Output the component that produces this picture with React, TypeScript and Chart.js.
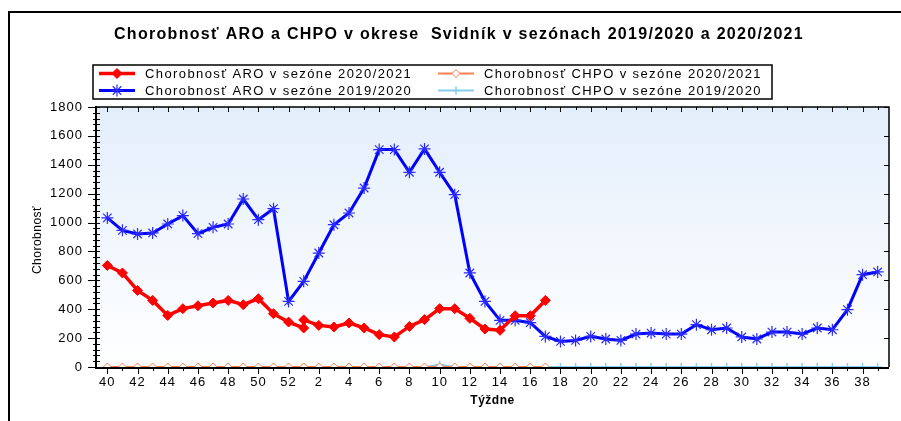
import React, { useEffect, useRef } from "react";
import { Chart, registerables } from "chart.js";
import { drawPoint } from "chart.js/helpers";

Chart.register(...registerables);

// ---- data ----
const weekLabels = [
  "40", "41", "42", "43", "44", "45", "46", "47", "48", "49", "50", "51", "52",
  "1", "2", "3", "4", "5", "6", "7", "8", "9", "10", "11", "12", "13", "14", "15", "16", "17",
  "18", "19", "20", "21", "22", "23", "24", "25", "26", "27", "28", "29", "30", "31", "32", "33",
  "34", "35", "36", "37", "38", "39",
];

const weeks2021 = [
  "40", "41", "42", "43", "44", "45", "46", "47", "48", "49", "50", "51", "52", "53",
  "1", "2", "3", "4", "5", "6", "7", "8", "9", "10", "11", "12", "13", "14", "15", "16", "17",
];

const aro2021 = [
  703, 651, 530, 461, 357, 404, 424, 443, 461, 431, 473, 369, 311, 270,
  326, 288, 277, 305, 270, 224, 208, 281, 328, 404, 404, 337, 263, 254, 355, 355, 461,
];

const chpo2021 = [
  0, 0, 0, 0, 0, 0, 0, 0, 0, 0, 0, 0, 0, 0,
  0, 0, 0, 0, 0, 0, 0, 0, 0, 0, 0, 0, 0, 0, 0, 0, 0,
];

const aro1920 = [
  1032, 946, 921, 928, 990, 1048, 923, 967, 990, 1163, 1020, 1096, 454,
  593, 789, 985, 1066, 1239, 1505, 1505, 1348, 1510, 1348, 1193, 651, 454, 323, 323, 307, 212,
  177, 184, 212, 194, 184, 228, 235, 228, 228, 293, 258, 270, 208, 194, 242, 242, 228, 270, 258,
  397, 639, 658,
];

const chpo1920 = [
  0, 0, 0, 0, 0, 0, 0, 0, 0, 0, 0, 0, 0,
  0, 0, 0, 0, 0, 0, 0, 0, 0, 15, 0, 0, 0, 0, 0, 0, 0,
  0, 0, 0, 0, 0, 0, 0, 0, 0, 0, 0, 0, 0, 0, 0, 0, 0, 0, 0, 0, 0, 0,
];

const yTicks = [0, 200, 400, 600, 800, 1000, 1200, 1400, 1600, 1800];

const titleText = "Chorobnosť ARO a CHPO v okrese  Svidník v sezónach 2019/2020 a 2020/2021";
const yTitle = "Chorobnosť";
const xTitle = "Týždne";
const seriesNames = [
  "Chorobnosť ARO v sezóne 2020/2021",
  "Chorobnosť CHPO v sezóne 2020/2021",
  "Chorobnosť ARO v sezóne 2019/2020",
  "Chorobnosť CHPO v sezóne 2019/2020",
];

// week label -> position on the shared week axis (week 53 shares slot with week 1)
const xOf = (w: string) => {
  const n = Number(w);
  if (n >= 40) return Math.min(n - 40, 13);
  return weekLabels.indexOf(w);
};

const FONT = "'Liberation Sans', Arial, sans-serif";

const decorPlugin = {
  id: "decor",
  beforeDraw(chart: any) {
    const { ctx, chartArea: a } = chart;
    ctx.save();
    ctx.fillStyle = "#ffffff";
    ctx.fillRect(0, 0, chart.width, chart.height);
    // outer frame
    ctx.strokeStyle = "#000";
    ctx.lineWidth = 2;
    ctx.beginPath();
    ctx.moveTo(9, chart.height + 2);
    ctx.lineTo(9, 12);
    ctx.lineTo(chart.width + 2, 12);
    ctx.stroke();
    // plot background gradient
    const g = ctx.createLinearGradient(0, a.top, 0, a.bottom);
    g.addColorStop(0, "#e3eefb");
    g.addColorStop(1, "#ffffff");
    ctx.fillStyle = g;
    ctx.fillRect(a.left, a.top, a.right - a.left, a.bottom - a.top);
    ctx.restore();
    (ctx as any).letterSpacing = "1px";
  },
  afterDatasetsDraw(chart: any) {
    const { ctx, chartArea: a, scales } = chart;
    const xs = scales.x;
    const ys = scales.y;
    ctx.save();
    (ctx as any).letterSpacing = "0px";
    ctx.strokeStyle = "#000";
    // top & right border
    ctx.lineWidth = 1.5;
    ctx.beginPath();
    ctx.moveTo(a.left, a.top);
    ctx.lineTo(a.right, a.top);
    ctx.lineTo(a.right, a.bottom);
    ctx.stroke();
    // left & bottom axes
    ctx.lineWidth = 2;
    ctx.beginPath();
    ctx.moveTo(a.left, a.top - 1);
    ctx.lineTo(a.left, a.bottom + 1);
    ctx.lineTo(a.right, a.bottom + 1);
    ctx.stroke();
    ctx.lineWidth = 1;
    ctx.beginPath();
    // y ticks
    for (let v = 0; v <= 1800; v += 40) {
      const y = Math.round(ys.getPixelForValue(v)) + 0.5;
      const major = v % 200 === 0;
      ctx.moveTo(a.left - (major ? 8 : 3), y);
      ctx.lineTo(a.left + 4, y);
    }
    yTicks.forEach((v) => {
      const y = Math.round(ys.getPixelForValue(v)) + 0.5;
      ctx.moveTo(a.right, y);
      ctx.lineTo(a.right - 5, y);
    });
    // x ticks
    weekLabels.forEach((_, i) => {
      const x = Math.round(xs.getPixelForValue(i)) + 0.5;
      const major = i % 2 === 0;
      ctx.moveTo(x, a.bottom + 1);
      ctx.lineTo(x, a.bottom + (major ? 7 : 4));
      ctx.moveTo(x, a.top);
      ctx.lineTo(x, a.top + (major ? 5 : 3));
    });
    ctx.stroke();
    ctx.restore();
  },
  afterDraw(chart: any) {
    const { ctx, chartArea: a } = chart;
    ctx.save();
    (ctx as any).letterSpacing = "0px";
    ctx.fillStyle = "#000";
    // title
    ctx.font = "bold 16px " + FONT;
    (ctx as any).letterSpacing = "1.3px";
    ctx.textAlign = "center";
    ctx.textBaseline = "middle";
    ctx.fillText(titleText, 459, 35);
    // axis titles
    ctx.font = "bold 12px " + FONT;
    (ctx as any).letterSpacing = "0.5px";
    ctx.fillText(xTitle, (a.left + a.right) / 2, 401);
    ctx.save();
    ctx.translate(38, (a.top + a.bottom) / 2 + 3);
    ctx.rotate(-Math.PI / 2);
    ctx.font = "12px " + FONT;
    ctx.fillText(yTitle, 0, 0);
    ctx.restore();
    // legend
    ctx.lineWidth = 1.5;
    ctx.strokeStyle = "#000";
    ctx.fillStyle = "#fff";
    ctx.fillRect(93, 65, 679, 34);
    ctx.strokeRect(93, 65, 679, 34);
    const slots = [
      { ds: 0, lx: 99, ly: 73.5 },
      { ds: 1, lx: 438, ly: 73.5 },
      { ds: 2, lx: 99, ly: 90.5 },
      { ds: 3, lx: 438, ly: 90.5 },
    ];
    ctx.font = "13px " + FONT;
    (ctx as any).letterSpacing = "1.4px";
    ctx.textAlign = "left";
    slots.forEach((s) => {
      const ds: any = chart.data.datasets[s.ds];
      ctx.strokeStyle = ds.borderColor;
      ctx.lineWidth = ds.borderWidth;
      ctx.beginPath();
      ctx.moveTo(s.lx, s.ly);
      ctx.lineTo(s.lx + 36, s.ly);
      ctx.stroke();
      ctx.strokeStyle = ds.pointBorderColor;
      ctx.fillStyle = ds.pointBackgroundColor;
      ctx.lineWidth = ds.pointBorderWidth;
      drawPoint(ctx, { pointStyle: ds.pointStyle, radius: ds.pointRadius, borderWidth: ds.pointBorderWidth, rotation: 0 } as any, s.lx + 18, s.ly);
      ctx.fillStyle = "#000";
      ctx.fillText(ds.label, s.lx + 46, s.ly + 1);
    });
    ctx.restore();
  },
};

export default function App() {
  const ref = useRef<HTMLCanvasElement | null>(null);
  useEffect(() => {
    if (!ref.current) return;
    const chart = new Chart(ref.current, {
      type: "line",
      data: {
        datasets: [
          {
            label: seriesNames[0],
            data: weeks2021.map((w, i) => ({ x: xOf(w), y: aro2021[i] })),
            borderColor: "#ff0000",
            backgroundColor: "#ff0000",
            borderWidth: 3.5,
            pointStyle: "rectRot",
            pointRadius: 5,
            pointBorderWidth: 1,
            pointBorderColor: "#ff0000",
            pointBackgroundColor: "#ff0000",
            tension: 0,
          },
          {
            label: seriesNames[1],
            data: weeks2021.map((w, i) => ({ x: xOf(w), y: chpo2021[i] })),
            borderColor: "#ff7f50",
            backgroundColor: "#ffffff",
            borderWidth: 2,
            pointStyle: "rectRot",
            pointRadius: 4,
            pointBorderWidth: 1,
            pointBorderColor: "#ff7f50",
            pointBackgroundColor: "#ffffff",
            tension: 0,
          },
          {
            label: seriesNames[2],
            data: weekLabels.map((w, i) => ({ x: xOf(w), y: aro1920[i] })),
            borderColor: "#0000ff",
            backgroundColor: "#0000ff",
            borderWidth: 3,
            pointStyle: "star",
            pointRadius: 6,
            pointBorderWidth: 1.2,
            pointBorderColor: "#2a2aff",
            pointBackgroundColor: "#2a2aff",
            tension: 0,
          },
          {
            label: seriesNames[3],
            data: weekLabels.map((w, i) => ({ x: xOf(w), y: chpo1920[i] })),
            borderColor: "#87ceeb",
            backgroundColor: "#87ceeb",
            borderWidth: 2,
            pointStyle: "cross",
            pointRadius: 4,
            pointBorderWidth: 1.5,
            pointBorderColor: "#87ceeb",
            pointBackgroundColor: "#87ceeb",
            tension: 0,
          },
        ],
      },
      options: {
        animation: false,
        responsive: false,
        devicePixelRatio: 1,
        layout: { padding: { top: 107, right: 12, left: 0, bottom: 0 } },
        plugins: { legend: { display: false }, title: { display: false }, tooltip: { enabled: false } },
        scales: {
          x: {
            type: "linear",
            min: -0.75,
            max: 51.75,
            grid: { display: false, drawTicks: false },
            border: { display: false },
            afterFit: (s: any) => { s.height = 54; },
            afterBuildTicks: (s: any) => {
              s.ticks = weekLabels.map((_, i) => ({ value: i })).filter((t) => t.value % 2 === 0);
            },
            ticks: {
              autoSkip: false,
              maxRotation: 0,
              padding: 8,
              color: "#000",
              font: { family: FONT, size: 13 },
              callback: (v: any) => weekLabels[v as number],
            },
          },
          y: {
            min: 0,
            max: 1800,
            grid: { display: false, drawTicks: false },
            border: { display: false },
            afterFit: (s: any) => { s.width = 96; },
            afterBuildTicks: (s: any) => { s.ticks = yTicks.map((v) => ({ value: v })); },
            ticks: {
              padding: 13,
              color: "#000",
              font: { family: FONT, size: 13 },
              callback: (v: any) => String(v),
            },
          },
        },
      },
      plugins: [decorPlugin],
    });
    return () => chart.destroy();
  }, []);
  return (
    <div style={{ position: "absolute", left: 0, top: 0, width: 901, height: 421 }}>
      <canvas ref={ref} width={901} height={421} style={{ display: "block", width: 901, height: 421 }} />
    </div>
  );
}
